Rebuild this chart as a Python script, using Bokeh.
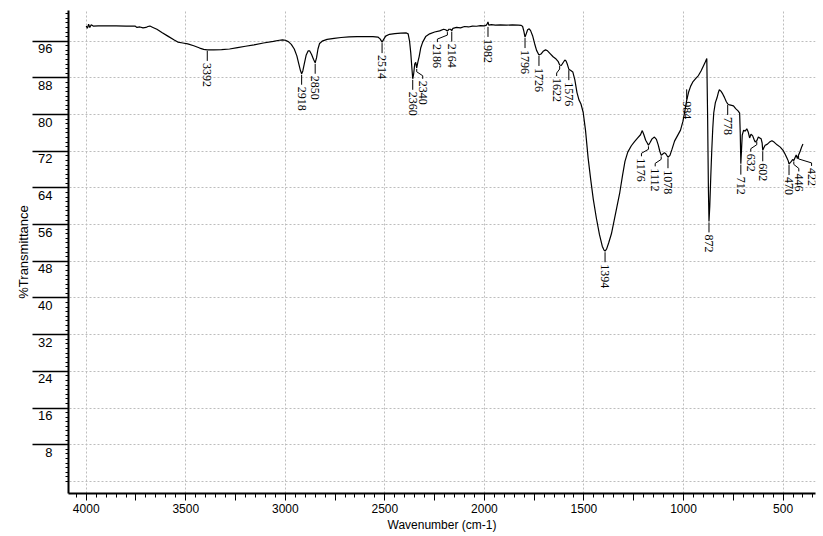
import numpy as np
from bokeh.plotting import figure
from bokeh.models import Range1d, FixedTicker
from bokeh.embed import file_html
from bokeh.resources import INLINE
from bokeh.core.properties import value

# ---- FTIR spectrum (wavenumber in cm-1, %T) ----
wavenumber = [
    4000, 3994, 3988, 3982, 3975, 3965, 3940, 3900, 3850, 3800, 3755, 3745, 3730, 3715,
    3700, 3690, 3680, 3665, 3645, 3620, 3590, 3560, 3540, 3515, 3490, 3460, 3430, 3410,
    3392, 3360, 3320, 3280, 3240, 3200, 3157, 3110, 3060, 3030, 3014, 3000, 2985, 2970,
    2955, 2942, 2932, 2924, 2918, 2912, 2905, 2895, 2885, 2878, 2868, 2858, 2850, 2843,
    2836, 2828, 2815, 2790, 2755, 2720, 2680, 2640, 2600, 2560, 2535, 2524, 2514, 2506,
    2496, 2477, 2450, 2420, 2392, 2383, 2376, 2370, 2364, 2360, 2355, 2350, 2345, 2340,
    2334, 2328, 2320, 2310, 2295, 2275, 2250, 2225, 2205, 2195, 2186, 2178, 2170, 2164,
    2158, 2140, 2120, 2100, 2080, 2060, 2040, 2020, 2000, 1990, 1986, 1982, 1978, 1965,
    1945, 1920, 1890, 1860, 1830, 1815, 1808, 1802, 1796, 1790, 1783, 1775, 1768, 1758,
    1748, 1738, 1726, 1716, 1705, 1693, 1683, 1670, 1655, 1640, 1630, 1622, 1614, 1605,
    1596, 1590, 1583, 1576, 1566, 1556, 1546, 1535, 1525, 1515, 1504, 1492, 1479, 1466,
    1453, 1438, 1422, 1408, 1400, 1394, 1386, 1376, 1362, 1348, 1334, 1320, 1306, 1294,
    1280, 1262, 1246, 1230, 1216, 1207, 1199, 1190, 1182, 1176, 1168, 1158, 1146, 1136,
    1127, 1119, 1112, 1104, 1096, 1088, 1078, 1068, 1058, 1045, 1030, 1015, 1003, 994,
    984, 975, 964, 952, 938, 925, 912, 900, 890, 883, 879, 875, 872, 868,
    863, 858, 853, 848, 840, 832, 825, 820, 812, 803, 795, 786, 778, 768,
    758, 749, 738, 726, 718, 715, 712, 709, 705, 698, 690, 682, 675, 668,
    661, 653, 646, 640, 632, 624, 617, 610, 605, 602, 597, 590, 580, 568,
    556, 545, 530, 514, 500, 490, 481, 474, 470, 464, 458, 452, 446, 440,
    434, 428, 422, 414, 406, 400,
]
transmittance = [
    99.3, 98.8, 99.7, 99.0, 99.6, 99.3, 99.35, 99.35, 99.35, 99.3, 99.3, 99.0, 99.1, 98.9,
    99.0, 99.2, 99.3, 99.0, 98.6, 97.9, 97.1, 96.3, 95.8, 95.6, 95.4, 95.0, 94.5, 94.2,
    94.1, 94.1, 94.15, 94.3, 94.6, 94.9, 95.2, 95.6, 95.95, 96.2, 96.3, 96.2, 95.9, 95.3,
    94.3, 92.8, 91.0, 89.6, 88.9, 89.5, 91.0, 93.0, 93.9, 93.9, 93.1, 92.0, 91.3, 92.4,
    94.3, 95.5, 96.0, 96.4, 96.6, 96.8, 96.95, 97.0, 97.0, 97.0, 96.9, 96.5, 95.8, 96.4,
    97.1, 97.5, 97.65, 97.75, 97.8, 97.6, 96.0, 93.5, 90.0, 87.8, 89.0, 91.0, 91.4, 90.2,
    91.5, 92.6, 94.5, 95.8, 97.0, 97.6, 98.0, 98.25, 98.6, 98.5, 98.2, 98.6, 98.6, 98.3,
    98.8, 99.0, 98.9, 99.2, 99.1, 99.3, 99.25, 99.4, 99.35, 99.5, 99.8, 100.2, 99.5, 99.6,
    99.5, 99.55, 99.5, 99.55, 99.5, 99.45, 99.2, 98.2, 96.9, 97.6, 98.5, 98.7, 98.3, 97.2,
    95.5, 94.0, 93.0, 93.2, 93.8, 94.1, 93.9, 93.3, 92.6, 92.1, 91.6, 90.8, 90.7, 91.3,
    91.9, 91.7, 90.9, 89.9, 89.6, 89.3, 87.6, 84.8, 83.2, 82.3, 80.5, 76.5, 70.5, 65.8,
    61.5, 57.5, 53.8, 51.3, 50.5, 50.2, 50.7, 52.0, 54.0, 57.0, 60.0, 63.0, 66.8, 69.8,
    71.8, 73.2, 74.1, 74.9, 75.6, 76.5, 75.6, 74.4, 73.8, 73.3, 73.9, 74.7, 75.1, 74.6,
    73.4, 72.0, 71.1, 71.4, 71.7, 71.4, 70.7, 71.1, 72.4, 74.2, 75.4, 76.6, 78.5, 80.6,
    83.1, 84.8, 86.2, 87.2, 87.9, 88.5, 89.5, 90.6, 91.5, 92.2, 80.0, 64.0, 56.7, 60.0,
    66.5, 72.2, 77.0, 80.4, 82.6, 83.6, 84.8, 85.4, 85.1, 84.5, 83.8, 82.9, 82.3, 82.1,
    82.0, 81.9, 81.3, 80.8, 80.3, 76.0, 69.3, 72.0, 75.5, 76.6, 76.4, 76.9, 76.2, 74.9,
    75.7, 75.4, 74.6, 74.0, 74.3, 75.1, 74.9, 74.7, 73.8, 72.2, 72.7, 73.3, 73.5, 74.0,
    74.3, 74.0, 73.4, 72.9, 72.2, 71.4, 70.6, 69.9, 69.2, 69.5, 69.8, 70.2, 70.0, 70.6,
    71.2, 70.4, 71.2, 72.0, 73.0, 73.6,
]

# ---- peak annotations (cm-1) ----
peak_labels = [3392, 2918, 2850, 2514, 2360, 2340, 2186, 2164, 1982, 1796, 1726, 1622,
               1576, 1394, 1176, 1112, 1078, 984, 872, 778, 712, 632, 602, 470, 446, 422]

# axis tick values
x_major = [4000, 3500, 3000, 2500, 2000, 1500, 1000, 500]
y_major = [8, 16, 24, 32, 40, 48, 56, 64, 72, 80, 88, 96]

# ---- layout ----
W, H = 823, 536
B_LEFT, B_RIGHT, B_TOP, B_BOTTOM = 68, 8, 10, 43
FRAME_W = W - B_LEFT - B_RIGHT
FRAME_H = H - B_TOP - B_BOTTOM
X0, X1 = 4089.0, 337.0
Y0, Y1 = -2.63, 102.69
X_PER_PX = (X0 - X1) / FRAME_W
Y_PER_PX = (Y1 - Y0) / FRAME_H

# leader-line kinks (px, + = right) and vertical nudges (px, + = down)
leader_shift = {2340: 6, 2186: -10, 1622: -3, 1176: -7, 1112: -6, 632: -6, 446: 5, 422: 13}
leader_nudge = {984: -12, 1982: 4}

p = figure(width=W, height=H, output_backend="svg", toolbar_location=None,
           x_range=Range1d(X0, X1), y_range=Range1d(Y0, Y1),
           min_border_left=B_LEFT, min_border_right=B_RIGHT,
           min_border_top=B_TOP, min_border_bottom=B_BOTTOM,
           x_axis_label="Wavenumber (cm-1)", y_axis_label="%Transmittance")
p.outline_line_color = None
p.background_fill_color = "white"
p.border_fill_color = "white"

# grid
p.xgrid.ticker = FixedTicker(ticks=x_major)
p.ygrid.ticker = FixedTicker(ticks=[0] + y_major)
for g in (p.xgrid, p.ygrid):
    g.grid_line_color = "#bdbdbd"
    g.grid_line_dash = "2 2"
    g.grid_line_width = 1

# x axis: labelled every 500, unlabelled mid ticks every 250, minor every 50
x_ticks = list(range(500, 4001, 250))
xa = p.xaxis[0]
xa.ticker = FixedTicker(ticks=x_ticks, minor_ticks=list(range(350, 4051, 50)))
xa.major_label_overrides = {t: ("" if t % 500 else str(t)) for t in x_ticks}
xa.axis_line_width = 2
xa.axis_line_color = "black"
xa.major_tick_line_color = "black"
xa.minor_tick_line_color = "black"
xa.major_tick_out = 7
xa.major_tick_in = 0
xa.minor_tick_out = 4
xa.minor_tick_in = 0
xa.major_label_standoff = 3
xa.major_label_text_color = "black"
xa.major_label_text_font = "Liberation Sans"
xa.major_label_text_font_size = "12px"
xa.axis_label_text_color = "black"
xa.axis_label_text_font = "Liberation Sans"
xa.axis_label_text_font_size = "12px"
xa.axis_label_text_font_style = "normal"
xa.axis_label_standoff = 2

# y axis: long major ticks; each value sits on the line just under its tick
ya = p.yaxis[0]
ya.ticker = FixedTicker(ticks=y_major, minor_ticks=list(range(0, 103)))
ya.major_label_overrides = {t: " \n" + str(t) for t in y_major}
ya.axis_line_width = 2
ya.axis_line_color = "black"
ya.major_tick_line_color = "black"
ya.minor_tick_line_color = "black"
ya.major_tick_out = 36
ya.major_tick_in = 0
ya.minor_tick_out = 3
ya.minor_tick_in = 0
ya.major_tick_line_width = 1.5
ya.major_label_standoff = -20
ya.major_label_text_color = "black"
ya.major_label_text_font = "Liberation Sans"
ya.major_label_text_font_size = "13px"
ya.major_label_text_line_height = 1.0
ya.axis_label_text_color = "black"
ya.axis_label_text_font = "Liberation Sans"
ya.axis_label_text_font_size = "13px"
ya.axis_label_text_font_style = "normal"
ya.axis_label_standoff = 4

# spectrum
p.line(wavenumber, transmittance, line_color="black", line_width=1.2)

# peak labels with leader lines
wn_asc = np.array(wavenumber[::-1], dtype=float)
tr_asc = np.array(transmittance[::-1], dtype=float)
xs, ys, tx, ty, tt = [], [], [], [], []
for w in peak_labels:
    t = float(np.interp(w, wn_asc, tr_asc))
    dx = leader_shift.get(w, 0)
    dy = leader_nudge.get(w, 0)
    if dx:
        pts = [(0, 1), (0, 4), (dx, 8), (dx, 11)]
    else:
        pts = [(0, 1), (0, 11)]
    xs.append([w - px * X_PER_PX for px, _ in pts])
    ys.append([t - (py + dy) * Y_PER_PX for _, py in pts])
    tx.append(w - dx * X_PER_PX)
    ty.append(t - (13 + dy) * Y_PER_PX)
    tt.append(str(w))

p.multi_line(xs, ys, line_color="black", line_width=1)
p.text(x=tx, y=ty, text=tt, angle=-np.pi / 2, text_align="left", text_baseline="middle",
       text_font=value("Liberation Serif"), text_font_size="12px", text_color="black")

with open("out.html", "w") as f:
    f.write(file_html(p, INLINE))
